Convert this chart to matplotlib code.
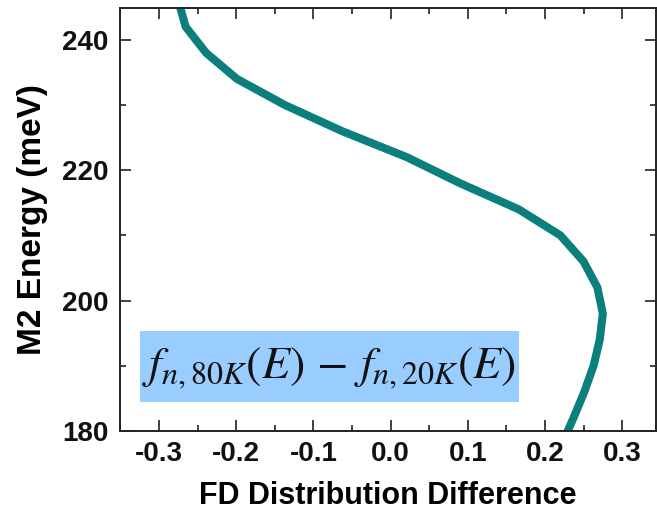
import matplotlib
matplotlib.use('Agg')
import matplotlib.pyplot as plt
from matplotlib.patches import Rectangle
from matplotlib.ticker import MultipleLocator

# M2 energy (meV) and FD occupation difference f(80K) - f(20K)
energy = [178, 182, 186, 190, 194, 198, 202, 206, 210, 214, 218, 222,
          226, 230, 234, 238, 242, 246]
fd_diff = [0.222, 0.237, 0.251, 0.263, 0.271, 0.275, 0.268, 0.250, 0.220,
           0.166, 0.090, 0.021, -0.063, -0.137, -0.199, -0.239, -0.2655, -0.275]

XTICKS = [-0.3, -0.2, -0.1, 0.0, 0.1, 0.2, 0.3]
YTICKS = [180, 200, 220, 240]
FORMULA = r'$f_{n,80K}(E)\,-\,f_{n,20K}(E)$'

plt.rcParams['font.family'] = ['Liberation Sans', 'DejaVu Sans']
plt.rcParams['mathtext.fontset'] = 'stix'

fig = plt.figure(figsize=(6.57, 5.11), dpi=100)
fig.patch.set_facecolor('white')
ax = fig.add_axes([0.1826, 0.1566, 0.816, 0.828])

ax.plot(fd_diff, energy, color='#0a7f7b', linewidth=5.8, solid_joinstyle='miter')

ax.set_xlim(-0.3506, 0.344)
ax.set_ylim(180, 244.9)
ax.set_xticks(XTICKS)
ax.set_xticklabels([f'{v:.1f}' for v in XTICKS])
ax.set_yticks(YTICKS)
ax.xaxis.set_minor_locator(MultipleLocator(0.05))
ax.yaxis.set_minor_locator(MultipleLocator(10))
ax.tick_params(which='both', direction='in', top=True, right=True,
               width=1.2, colors='#222222', labelcolor='#111111')
ax.tick_params(which='major', length=8, labelsize=20)
ax.tick_params(axis='x', which='major', pad=7)
ax.tick_params(axis='y', which='major', pad=8)
ax.tick_params(which='minor', length=4)
for lab in ax.get_xticklabels() + ax.get_yticklabels():
    lab.set_fontweight('bold')

ax.set_xlabel('FD Distribution Difference', fontsize=22, fontweight='bold',
              labelpad=10)
ax.set_ylabel('M2 Energy (meV)', fontsize=24, fontweight='bold', labelpad=10)

for sp in ax.spines.values():
    sp.set_linewidth(1.4)
    sp.set_edgecolor('#222222')

# highlighted formula box
ax.add_patch(Rectangle((0.0373, 0.0686), 0.7067, 0.1674, transform=ax.transAxes,
                       facecolor='#99ccff', edgecolor='none', zorder=3))
ax.text(0.39, 0.148, FORMULA, transform=ax.transAxes, fontsize=33,
        ha='center', va='center', color='#111111', zorder=4)

plt.savefig('out.png', dpi=100, facecolor='white')
